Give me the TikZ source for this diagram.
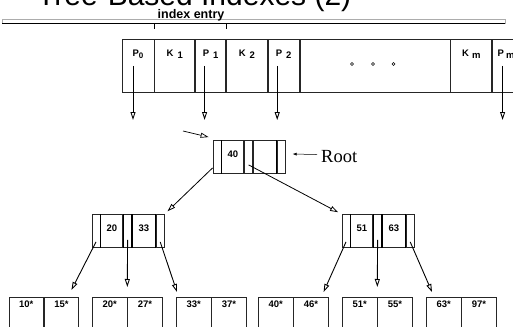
\documentclass[tikz,border=0pt]{standalone}
\usepackage{fontspec}
\setmainfont{Liberation Sans}
\newfontfamily\rootfont{Liberation Serif}
\usetikzlibrary{arrows.meta,positioning}
\newcommand{\lowsub}[1]{\raisebox{-2.5pt}{#1}}

\begin{document}
\begin{tikzpicture}[x=1pt, y=-1pt,
  cell/.style={draw, black!85, line width=0.8pt, inner sep=0pt, text=black, font=\bfseries\fontsize{9.5}{11}\selectfont},
  topcell/.style={cell, minimum height=53pt, text height=17.5pt, text depth=35.5pt},
  keycell/.style={cell, minimum height=33pt, text height=16.5pt, text depth=16.5pt},
  leafcell/.style={cell, minimum width=34.5pt, minimum height=45pt, text height=10pt, text depth=35pt},
  ptr/.style={-{Triangle[open, length=8pt, width=5pt]}, line width=0.9pt},
  treeptr/.style={ptr, line width=0.8pt, shorten >=4pt},
  dot/.style={circle, draw, line width=0.6pt, inner sep=0pt, minimum size=3pt},
  node distance=0pt
]
  \useasboundingbox (0,0) rectangle (513,326);

  \node[font=\fontsize{30}{36}\selectfont, anchor=base west, inner sep=0pt] (title) at (37,6) {Tree-Based Indexes (2)};
  \draw[gray!65, line width=1pt, fill=white] (2,19.5) rectangle (505,23.5);
  \draw[line width=0.8pt] (2,23.5) -- (505,23.5);

  \node[font=\bfseries\fontsize{12.5}{14}\selectfont, anchor=base, inner sep=0pt] (entrylbl) at (191,18.5) {index entry};
  \coordinate (brl) at (154,29);
  \coordinate (brr) at (226,29);
  \draw[line width=0.8pt] (brl) -- ++(0,-6) -| (brr);

  \node[topcell, minimum width=32pt] (p0) at (138,65.5) {P\lowsub{\footnotesize 0}};
  \node[topcell, minimum width=40pt, right=of p0] (k1) {K\hspace{4pt}\lowsub{1}};
  \node[topcell, minimum width=30pt, right=of k1] (p1) {P\hspace{4pt}\lowsub{1}};
  \node[topcell, minimum width=41pt, right=of p1] (k2) {K\hspace{4pt}\lowsub{2}};
  \node[topcell, minimum width=31pt, right=of k2] (p2) {P\hspace{4pt}\lowsub{2}};
  \node[topcell, minimum width=150pt, right=of p2] (dots) {};
  \node[topcell, minimum width=41pt, right=of dots] (km) {K\hspace{3pt}\lowsub{m}};
  \node[topcell, minimum width=27pt, right=of km] (pm) {P\hspace{2pt}\lowsub{m}};
  \foreach \i/\dx in {1/-23,2/-2,3/18.5}
    \node[dot] (dot\i) at ([xshift=\dx pt, yshift=1.5pt]dots.center) {};
  \foreach \c/\dx in {p0/-5,p1/-6,p2/-6.5,pm/-3.5}
    \draw[ptr] ([xshift=\dx pt, yshift=-0.5pt]\c.center) -- ++(0,54);

  \node[keycell, minimum width=8pt] (r0) at (217,157) {};
  \node[keycell, minimum width=22pt, right=of r0] (r1) {40};
  \node[keycell, minimum width=8pt, right=of r1] (r2) {};
  \node[keycell, minimum width=23pt, right=of r2] (r3) {};
  \node[keycell, minimum width=8pt, right=of r3] (r4) {};

  \node[font=\rootfont\fontsize{18.5}{22}\selectfont, anchor=base west, inner sep=0pt] (rootlbl) at (321,162.5) {Root};
  \draw[-{Latex[length=4pt, width=3pt]}, line width=0.5pt] ([xshift=-4pt, yshift=2pt]rootlbl.west) -- ([xshift=7pt, yshift=3pt]r4.east);
  \coordinate (rootin) at (183,131);
  \draw[ptr, line width=0.7pt] (rootin) -- ([xshift=-4pt, yshift=3pt]r0.north west);

  \node[keycell, minimum width=8pt] (li0) at (96,231) {};
  \node[keycell, minimum width=22pt, right=of li0] (li1) {20};
  \node[keycell, minimum width=8pt, right=of li1] (li2) {};
  \node[keycell, minimum width=23pt, right=of li2] (li3) {33};
  \node[keycell, minimum width=8pt, right=of li3] (li4) {};

  \node[keycell, minimum width=8pt] (ri0) at (346,231) {};
  \node[keycell, minimum width=22pt, right=of ri0] (ri1) {51};
  \node[keycell, minimum width=8pt, right=of ri1] (ri2) {};
  \node[keycell, minimum width=23pt, right=of ri2] (ri3) {63};
  \node[keycell, minimum width=8pt, right=of ri3] (ri4) {};

  \foreach \c in {r1,r4,li1,li2,li3,li4,ri1,ri2,ri3,ri4}
    \draw[line width=1.3pt] (\c.north west) -- (\c.south west);

  \draw[treeptr] ([yshift=6pt]r0.south west) -- (li4.north east);
  \draw[treeptr] ([yshift=9pt]r2.south) -- (ri0.north west);

  \foreach \i/\x/\ka/\kb in {1/8.5/10*/15*, 2/92/20*/27*, 3/176/33*/37*, 4/258/40*/46*, 5/342/51*/55*, 6/426/63*/97*} {
    \node[leafcell, anchor=north west] (lf\i a) at (\x,297) {\ka};
    \node[leafcell, right=of lf\i a] (lf\i b) {\kb};
  }

  \draw[ptr] ([yshift=6pt]li0.south) -- ([xshift=10pt, yshift=7pt]lf1b.north);
  \draw[ptr] ([yshift=8pt]li2.south) -- ([yshift=10pt]lf2b.north west);
  \draw[ptr] ([yshift=6pt]li4.south) -- ([xshift=1pt, yshift=5pt]lf3a.north west);
  \draw[ptr] ([yshift=6pt]ri0.south) -- ([xshift=-5pt, yshift=5pt]lf4b.north east);
  \draw[ptr] ([yshift=8pt]ri2.south) -- ([yshift=10pt]lf5b.north west);
  \draw[ptr] ([yshift=6pt]ri4.south) -- ([xshift=6pt, yshift=5pt]lf6a.north west);
\end{tikzpicture}
\end{document}
